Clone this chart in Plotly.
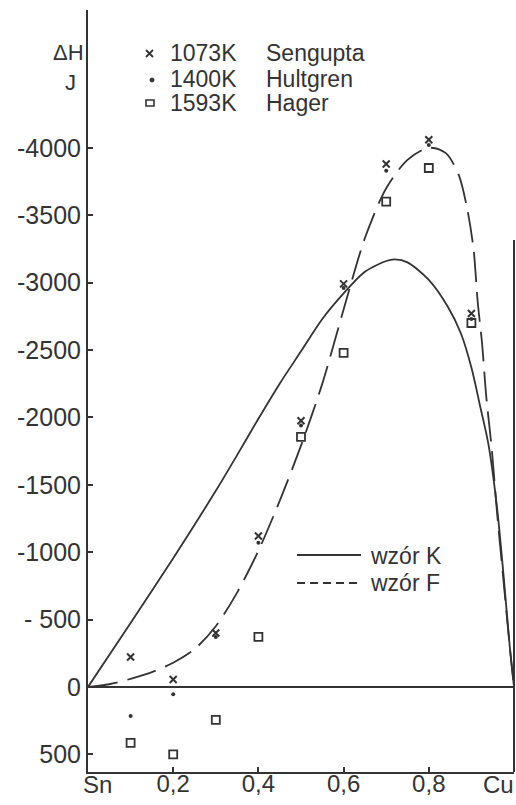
import plotly.graph_objects as go

# ---------------- data ----------------
x_pts = [0.1, 0.2, 0.3, 0.4, 0.5, 0.6, 0.7, 0.8, 0.9]
sengupta_1073K = [-222, -55, -400, -1120, -1975, -2990, -3880, -4060, -2770]
hultgren_1400K = [215, 55, -370, -1070, -1940, -2960, -3830, -4020, -2730]
hager_1593K = [415, 500, 245, -371, -1855, -2478, -3600, -3850, -2700]

wzor_K_x = [0.0, 0.1, 0.2, 0.3, 0.35, 0.4, 0.45, 0.5, 0.55, 0.6, 0.65, 0.7, 0.72, 0.75, 0.8,
            0.845, 0.875, 0.9, 0.92, 0.94, 0.96, 0.975, 0.99, 1.0]
wzor_K_y = [0, -475, -955, -1455, -1720, -1990, -2250, -2490, -2730, -2920, -3080, -3160, -3172,
            -3150, -3020, -2819, -2626, -2370, -2090, -1800, -1335, -845, -300, 0]

wzor_F_x = [0.0, 0.05, 0.1, 0.15, 0.2, 0.25, 0.3, 0.35, 0.4, 0.45, 0.5, 0.55, 0.6, 0.65,
            0.7, 0.75, 0.8, 0.84, 0.87, 0.89, 0.905, 0.915, 0.925, 0.935, 0.948, 0.96,
            0.975, 0.99, 1.0]
wzor_F_y = [0, -20, -60, -110, -180, -280, -450, -700, -1010, -1380, -1790, -2250, -2800, -3330,
            -3700, -3910, -4000, -3960, -3800, -3550, -3250, -2850, -2550, -2150, -1760, -1300,
            -800, -300, 0]

y_tickvals = [-4000, -3500, -3000, -2500, -2000, -1500, -1000, -500, 0, 500]
y_ticktext = ["-4000", "-3500", "-3000", "-2500", "-2000", "-1500", "-1000", "- 500", "0", "500"]
x_tickvals = [0.2, 0.4, 0.6, 0.8]
x_ticktext = ["0,2", "0,4", "0,6", "0,8"]

legend_temps = ["1073K", "1400K", "1593K"]
legend_authors = ["Sengupta", "Hultgren", "Hager"]
curve_labels = ["wzór K", "wzór F"]

# ---------------- layout constants ----------------
W, H = 516, 805
ML, MR, MT, MB = 88, 2, 10, 33
PW, PH = W - ML - MR, H - MT - MB
INK = "#333333"
FONT = "Liberation Sans, Arial, sans-serif"


def px(xp):
    return (xp - ML) / PW


def py(yp):
    return (H - MB - yp) / PH


def label(xp, yp, text, size=23, xanchor="left"):
    return dict(xref="paper", yref="paper", x=px(xp), y=py(yp), text=text,
                xanchor=xanchor, yanchor="middle", showarrow=False,
                font=dict(size=size, color=INK, family=FONT))


fig = go.Figure()

fig.add_trace(go.Scatter(x=wzor_K_x, y=wzor_K_y, mode="lines",
                         line=dict(color=INK, width=1.8, shape="spline", smoothing=0.8),
                         showlegend=False, name=curve_labels[0]))
fig.add_trace(go.Scatter(x=wzor_F_x, y=wzor_F_y, mode="lines",
                         line=dict(color=INK, width=1.8, dash="30px,10px", shape="spline", smoothing=0.8),
                         showlegend=False, name=curve_labels[1]))

fig.add_trace(go.Scatter(x=x_pts, y=hager_1593K, mode="markers",
                         marker=dict(symbol="square-open", size=8, color=INK, line=dict(width=1.8)),
                         showlegend=False))
fig.add_trace(go.Scatter(x=x_pts, y=sengupta_1073K, mode="markers",
                         marker=dict(symbol="x-thin", size=7, color=INK, line=dict(width=2, color=INK)),
                         showlegend=False))
fig.add_trace(go.Scatter(x=x_pts, y=hultgren_1400K, mode="markers",
                         marker=dict(symbol="circle", size=4, color=INK),
                         showlegend=False))

annotations = []
shapes = []

# axis title
annotations.append(label(68, 52, "ΔH", size=22, xanchor="center"))
annotations.append(label(70, 82, "J", size=22, xanchor="center"))

# marker legend
rows = [53, 79, 103]
for i in range(3):
    annotations.append(label(168, rows[i], legend_temps[i]))
    annotations.append(label(264, rows[i], legend_authors[i]))
shapes.append(dict(type="line", xref="paper", yref="paper", x0=px(146), y0=py(50), x1=px(153), y1=py(57),
                   line=dict(color=INK, width=1.8)))
shapes.append(dict(type="line", xref="paper", yref="paper", x0=px(146), y0=py(57), x1=px(153), y1=py(50),
                   line=dict(color=INK, width=1.8)))
shapes.append(dict(type="circle", xref="paper", yref="paper", x0=px(150), y0=py(78), x1=px(154), y1=py(82),
                   fillcolor=INK, line=dict(color=INK, width=1)))
shapes.append(dict(type="rect", xref="paper", yref="paper", x0=px(146), y0=py(100), x1=px(154), y1=py(106),
                   line=dict(color=INK, width=1.6)))

# curve legend
shapes.append(dict(type="line", xref="paper", yref="paper", x0=px(297), y0=py(555), x1=px(361), y1=py(555),
                   line=dict(color=INK, width=1.8)))
shapes.append(dict(type="line", xref="paper", yref="paper", x0=px(297), y0=py(583), x1=px(361), y1=py(583),
                   line=dict(color=INK, width=1.8, dash="8px,5px")))
annotations.append(label(368, 556, curve_labels[0]))
annotations.append(label(368, 583, curve_labels[1]))

# end labels of composition axis
annotations.append(label(97, 784, "Sn", size=24, xanchor="center"))
annotations.append(label(498, 784, "Cu", size=24, xanchor="center"))

# right frame edge
shapes.append(dict(type="line", xref="paper", yref="paper", x0=1, y0=0, x1=1, y1=py(240),
                   line=dict(color=INK, width=2)))

fig.update_layout(
    width=W, height=H,
    margin=dict(l=ML, r=MR, t=MT, b=MB, pad=0),
    paper_bgcolor="white", plot_bgcolor="white",
    font=dict(family=FONT, color=INK, size=24),
    annotations=annotations, shapes=shapes,
    xaxis=dict(range=[0, 1.0], tickvals=x_tickvals, ticktext=x_ticktext,
               showgrid=False, zeroline=False, showline=True, linecolor=INK, linewidth=2,
               ticks="inside", ticklen=5, tickwidth=1.5, tickcolor=INK,
               ticklabelstandoff=-11,
               tickfont=dict(size=24, family=FONT, color=INK)),
    yaxis=dict(range=[631, -5022], tickvals=y_tickvals, ticktext=y_ticktext,
               showgrid=False, zeroline=True, zerolinecolor=INK, zerolinewidth=2,
               showline=True, linecolor=INK, linewidth=2,
               ticks="inside", ticklen=5, tickwidth=1.5, tickcolor=INK,
               tickfont=dict(size=25, family=FONT, color=INK)),
)

fig.write_html("out.html")
